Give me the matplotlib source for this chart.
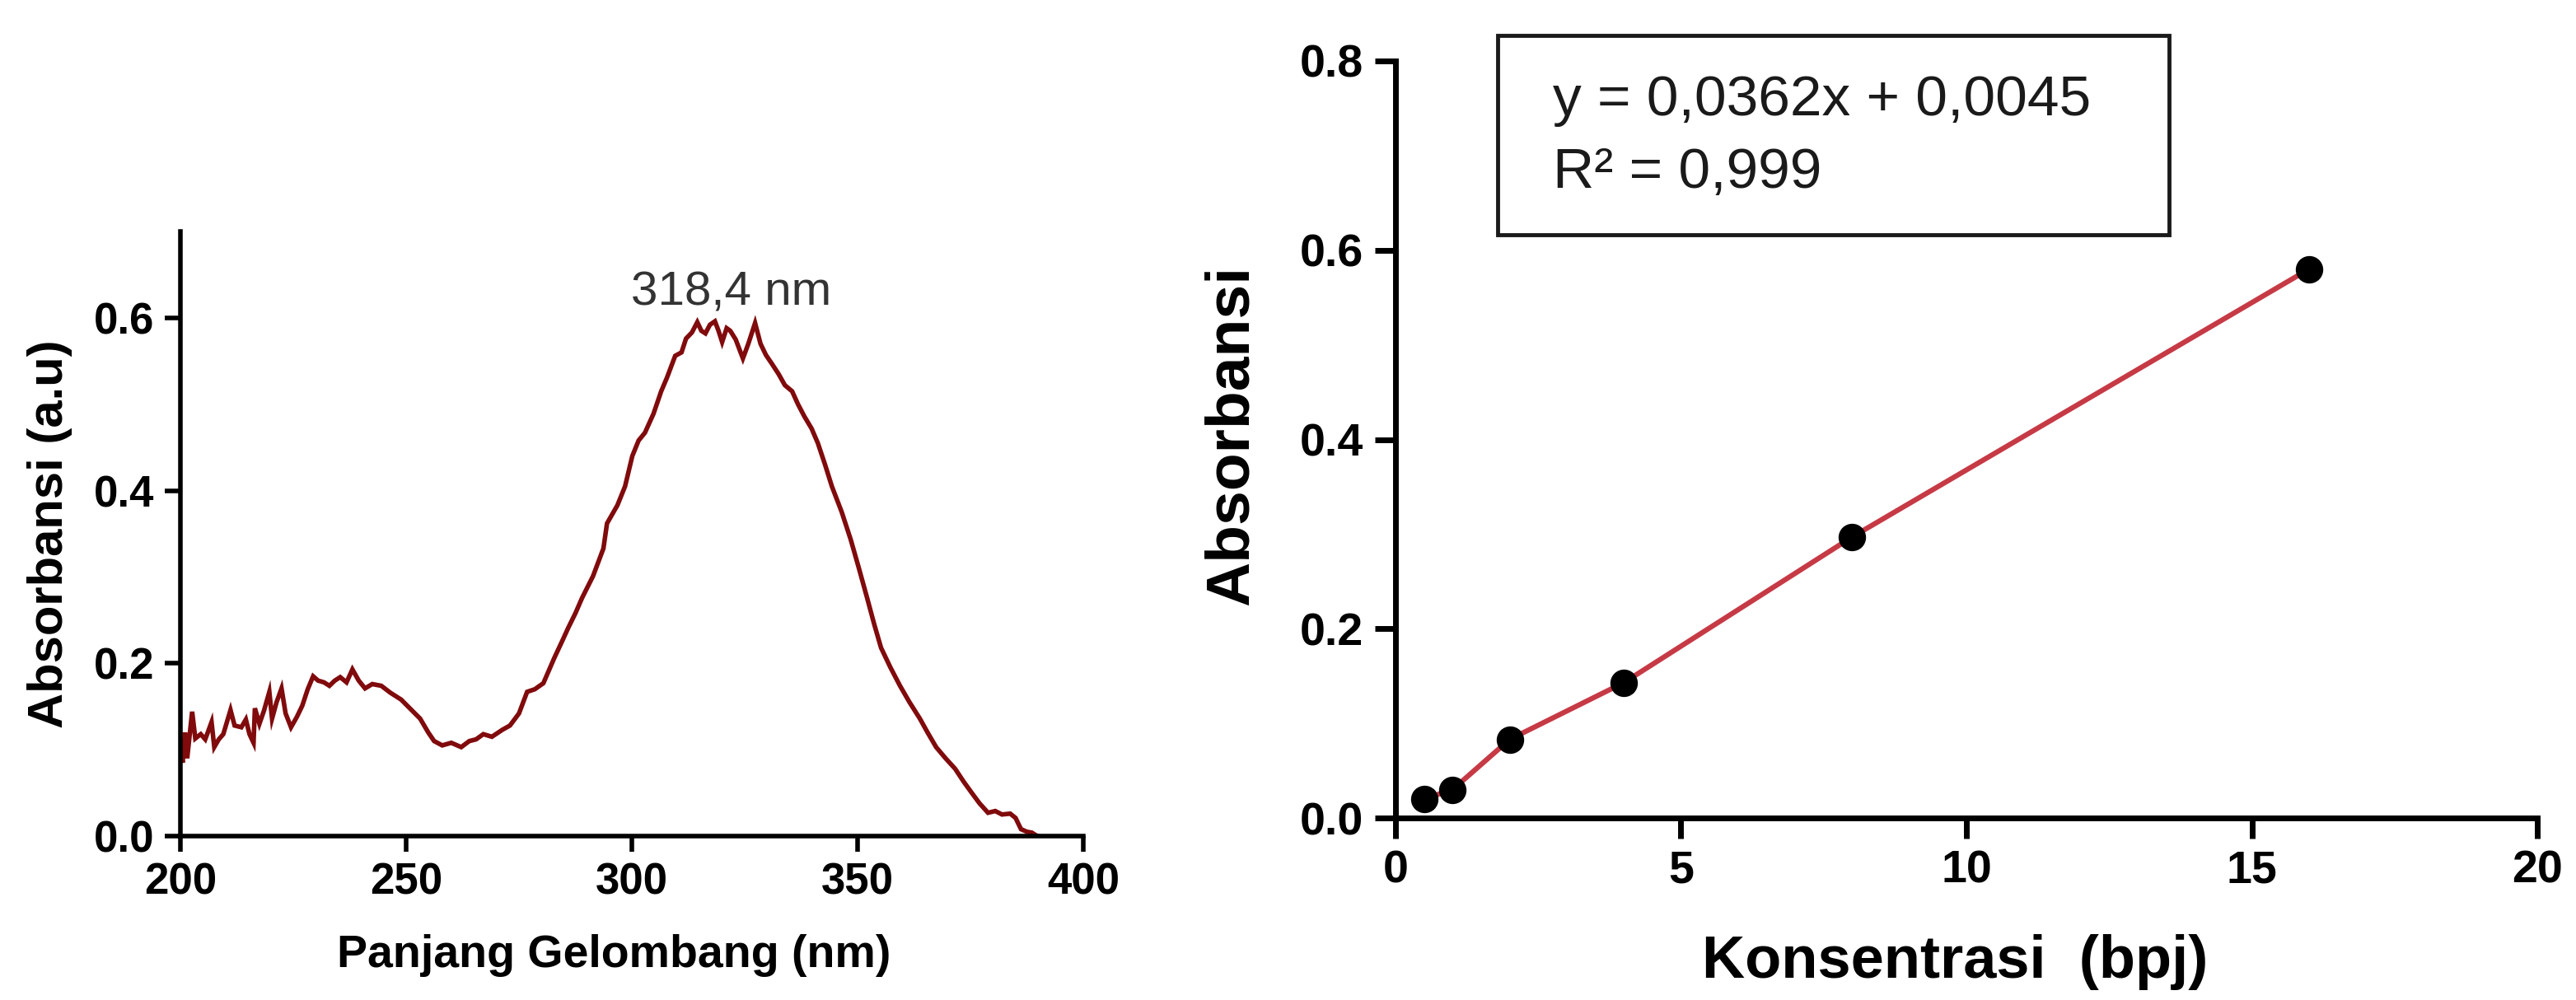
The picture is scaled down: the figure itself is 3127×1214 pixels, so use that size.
import matplotlib
matplotlib.use("Agg")
import matplotlib.pyplot as plt
from matplotlib.patches import Rectangle

plt.rcParams['font.family'] = ['Liberation Sans', 'DejaVu Sans']

# ---------------- data ----------------
wavelength = [200.0, 200.5, 201.0, 201.5, 202.0, 202.6, 203.3, 204.5, 205.5, 206.9,
              207.5, 208.5, 209.5, 211.1, 212.0, 213.5, 214.5, 215.3, 216.2, 216.5,
              217.5, 218.5, 219.7, 220.3, 221.3, 222.4, 223.3, 224.5, 225.8, 227.0,
              228.2, 229.4, 230.5, 231.8, 233.0, 234.2, 235.4, 236.8, 238.1, 239.5,
              240.9, 242.5, 244.5, 246.5, 248.9, 251.0, 253.1, 254.9, 256.2, 258.0,
              260.0, 262.2, 264.0, 265.5, 267.1, 269.0, 271.3, 273.0, 275.0, 276.8,
              278.5, 280.4, 282.8, 284.5, 285.9, 287.5, 289.0, 291.4, 293.7, 294.5,
              296.8, 298.5, 300.1, 301.5, 302.9, 304.8, 306.5, 307.8, 309.6, 311.0,
              312.0, 313.3, 314.5, 315.4, 316.3, 317.3, 318.4, 319.2, 320.0, 321.0,
              321.8, 323.0, 324.6, 325.8, 327.3, 328.5, 329.7, 331.0, 332.5, 333.9,
              335.5, 336.8, 338.2, 339.8, 341.2, 342.8, 344.3, 346.5, 348.5, 350.3,
              352.1, 353.7, 355.2, 357.3, 359.4, 361.5, 363.8, 365.5, 367.4, 369.5,
              371.6, 373.5, 375.3, 377.0, 378.9, 380.5, 382.0, 383.8, 385.0, 386.2,
              387.5, 388.6, 389.5, 390.0]
absorbance = [0.100, 0.085, 0.120, 0.090, 0.115, 0.144, 0.113, 0.118, 0.112, 0.132,
              0.103, 0.112, 0.118, 0.146, 0.128, 0.126, 0.135, 0.118, 0.108, 0.148,
              0.130, 0.145, 0.167, 0.136, 0.155, 0.171, 0.142, 0.126, 0.138, 0.151,
              0.170, 0.185, 0.180, 0.178, 0.174, 0.180, 0.184, 0.178, 0.193, 0.180,
              0.171, 0.176, 0.174, 0.166, 0.158, 0.147, 0.136, 0.120, 0.110, 0.105,
              0.108, 0.103, 0.110, 0.112, 0.118, 0.115, 0.123, 0.128, 0.142, 0.167,
              0.170, 0.177, 0.206, 0.225, 0.241, 0.258, 0.276, 0.301, 0.333, 0.362,
              0.383, 0.405, 0.440, 0.458, 0.467, 0.489, 0.515, 0.531, 0.556, 0.560,
              0.576, 0.583, 0.595, 0.585, 0.582, 0.592, 0.596, 0.585, 0.572, 0.588,
              0.585, 0.575, 0.553, 0.570, 0.594, 0.570, 0.557, 0.547, 0.535, 0.522,
              0.515, 0.500, 0.486, 0.472, 0.455, 0.430, 0.405, 0.375, 0.343, 0.310,
              0.276, 0.245, 0.218, 0.195, 0.174, 0.155, 0.136, 0.120, 0.103, 0.090,
              0.078, 0.063, 0.050, 0.038, 0.027, 0.029, 0.025, 0.026, 0.021, 0.008,
              0.005, 0.004, 0.001, 0.000]
peak_label = "318,4 nm"

konsentrasi = [0.5, 1, 2, 4, 8, 16]
absorbansi = [0.020, 0.030, 0.083, 0.143, 0.297, 0.580]
equation = "y = 0,0362x + 0,0045"
r_squared = "R² = 0,999"

left_xticks = [200, 250, 300, 350, 400]
left_yticks = [0.0, 0.2, 0.4, 0.6]
right_xticks = [0, 5, 10, 15, 20]
right_yticks = [0.0, 0.2, 0.4, 0.6, 0.8]

# ---------------- figure ----------------
W, H = 3127, 1214
fig = plt.figure(figsize=(W / 100, H / 100), dpi=100)

# Left panel: UV spectrum
axL = fig.add_axes([219 / W, 1 - 1015 / H, (1315 - 219) / W, (1015 - 281) / H])
axL.plot(wavelength, absorbance, color='#800a0c', lw=4, solid_joinstyle='miter')
axL.set_xlim(200, 400)
axL.set_ylim(0, 0.7)
axL.set_xticks(left_xticks)
axL.set_xticklabels([str(v) for v in left_xticks])
axL.set_yticks(left_yticks)
axL.set_yticklabels([f"{v:.1f}" for v in left_yticks])
for s in ['top', 'right']:
    axL.spines[s].set_visible(False)
for s in ['left', 'bottom']:
    axL.spines[s].set_linewidth(4)
axL.tick_params(axis='both', width=4, length=14, pad=9, labelsize=38)
for lab in axL.get_xticklabels() + axL.get_yticklabels():
    lab.set_fontweight('bold')
axL.set_xlabel("Panjang Gelombang (nm)", fontsize=40, fontweight='bold',
               va='center', ha='center')
axL.xaxis.set_label_coords(0.48, -0.198)
axL.set_ylabel("Absorbansi (a.u)", fontsize=43, fontweight='bold',
               va='center', ha='center', rotation_mode='default')
axL.yaxis.set_label_coords(-0.145, 0.50)
axL.text(322, 0.615, peak_label, ha='center', va='baseline', fontsize=42,
         color='#333333')

# Right panel: calibration curve
axR = fig.add_axes([1694 / W, 1 - 993 / H, (3080 - 1694) / W, (993 - 74) / H])
axR.plot(konsentrasi, absorbansi, color='#c63a45', lw=4.5, zorder=2)
axR.plot(konsentrasi, absorbansi, linestyle='none', marker='o', ms=23,
         color='black', zorder=3, clip_on=False)
axR.set_xlim(0, 20)
axR.set_ylim(0, 0.8)
axR.set_xticks(right_xticks)
axR.set_xticklabels([str(v) for v in right_xticks])
axR.set_yticks(right_yticks)
axR.set_yticklabels([f"{v:.1f}" for v in right_yticks])
for s in ['top', 'right']:
    axR.spines[s].set_visible(False)
for s in ['left', 'bottom']:
    axR.spines[s].set_linewidth(5)
axR.tick_params(axis='both', width=5, length=18, pad=10, labelsize=40)
for lab in axR.get_xticklabels() + axR.get_yticklabels():
    lab.set_fontweight('bold')
axR.set_xlabel("Konsentrasi  (bpj)", fontsize=52, fontweight='bold',
               va='center', ha='center')
axR.xaxis.set_label_coords(0.49, -0.19)
axR.set_ylabel("Absorbansi", fontsize=54, fontweight='bold',
               va='center', ha='center', rotation_mode='default')
axR.yaxis.set_label_coords(-0.1436, 0.505)

# Equation box
box = Rectangle((1818 / W, 1 - 285 / H), (2633 - 1818) / W, (285 - 43) / H,
                transform=fig.transFigure, fill=False, edgecolor='#1a1a1a', lw=3.5)
fig.add_artist(box)
fig.text(1885 / W, 1 - 140 / H, equation, fontsize=50, ha='left', va='baseline',
         color='#1a1a1a')
fig.text(1885 / W, 1 - 228 / H, r_squared, fontsize=50, ha='left', va='baseline',
         color='#1a1a1a')

fig.savefig("out.png", dpi=100, facecolor='white')
